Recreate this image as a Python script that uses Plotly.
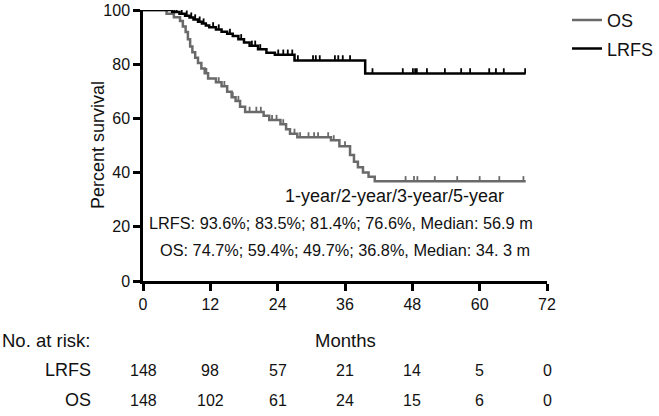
import plotly.graph_objects as go
import numpy as np

# ---- data ----
os_times = [0, 4.2, 5.5, 6.6, 7.1, 7.6, 8.0, 8.4, 8.8, 9.3, 9.8, 10.4, 11.0, 11.6, 13.0, 14.0,
            15.0, 15.8, 16.5, 17.3, 18.2, 21.5, 22.5, 24.5, 25.5, 26.2, 27.5, 33.5, 35.0,
            36.9, 37.6, 38.3, 39.2, 40.2, 41.3]
os_surv = [100, 98.6, 97.3, 95.9, 93.9, 91.9, 89.2, 86.5, 84.4, 82.4, 80.4, 78.4, 76.7, 74.7, 73.3, 71.9,
           69.8, 67.8, 66.4, 64.3, 62.4, 61.0, 59.4, 57.8, 56.0, 54.3, 53.0, 51.9, 49.7,
           46.5, 44.0, 42.0, 40.0, 38.5, 36.8]
os_censor = [11.3, 13.5, 14.5, 16.0, 17.0, 19.0, 20.2, 21.0, 23.0, 23.8, 25.0, 27.0, 28.0, 29.5,
             30.5, 31.2, 33.0, 34.0, 36.0, 46.8, 48.3, 48.9, 52.0, 56.0, 60.0, 63.5, 67.8]
os_end = 68.2

lrfs_times = [0, 5.2, 6.5, 7.5, 8.3, 9.0, 9.8, 10.5, 11.2, 11.8, 13.0, 14.0, 15.0, 16.0, 17.0,
              18.0, 19.0, 20.5, 22.0, 23.5, 27.0, 39.6]
lrfs_surv = [100, 99.3, 98.6, 97.9, 97.2, 96.5, 95.7, 95.0, 94.3, 93.6, 92.8, 92.0, 91.2, 90.4, 89.2,
             88.0, 86.8, 85.5, 84.2, 83.5, 81.4, 76.6]
lrfs_censor = [5.6, 6.0, 6.9, 7.8, 8.6, 9.3, 10.1, 10.8, 12.5, 13.5, 15.5, 17.5, 19.4, 20.0, 20.9,
               24.1, 25.0, 25.8, 26.6, 27.6, 30.3, 30.8, 31.5, 34.2, 34.8, 35.6, 36.9, 40.9,
               46.3, 48.1, 48.5, 48.8, 50.6, 53.8, 56.7, 58.3, 61.7, 62.9, 64.3, 68.1]
lrfs_end = 68.2

risk_times = [0, 12, 24, 36, 48, 60, 72]
risk_lrfs = [148, 98, 57, 21, 14, 5, 0]
risk_os = [148, 102, 61, 24, 15, 6, 0]

summary_lines = ["1-year/2-year/3-year/5-year",
                 "LRFS: 93.6%; 83.5%; 81.4%; 76.6%, Median: 56.9 m",
                 "OS: 74.7%; 59.4%; 49.7%; 36.8%, Median: 34. 3 m"]

GRAY = "#6a6a6a"
BLACK = "#000000"
FONT = "Liberation Sans, Arial, sans-serif"
TXT = "#111111"

L, R, T, B = 143, 547, 10, 281
W, H = R - L, B - T


def px2x(px):
    return (px - L) / W


def py2y(py):
    return (B - py) / H


def surv_at(times, surv, t):
    idx = np.searchsorted(np.array(times), t, side="right") - 1
    return surv[idx]


def tick_segments(times, surv, censor, h=1.9):
    xs, ys = [], []
    for c in censor:
        s = surv_at(times, surv, c)
        xs += [c, c, None]
        ys += [s, s + h, None]
    return xs, ys


fig = go.Figure()

for name, times, surv, cens, end, col in [
    ("OS", os_times, os_surv, os_censor, os_end, GRAY),
    ("LRFS", lrfs_times, lrfs_surv, lrfs_censor, lrfs_end, BLACK),
]:
    x = list(times) + [end]
    y = list(surv) + [surv[-1]]
    fig.add_trace(go.Scatter(x=x, y=y, mode="lines", line=dict(shape="hv", color=col, width=2.5),
                             name=name, legendgroup=name, showlegend=True))
    tx, ty = tick_segments(times, surv, cens)
    fig.add_trace(go.Scatter(x=tx, y=ty, mode="lines", line=dict(color=col, width=1.8),
                             legendgroup=name, showlegend=False, hoverinfo="skip"))


def f(size):
    return dict(size=size, color=TXT, family=FONT)


annots = []
ann_pos = [(283, 196, 18), (147, 223, 16.3), (158, 250, 16.3)]
for txt, (px, py, sz) in zip(summary_lines, ann_pos):
    annots.append(dict(text=txt, xref="paper", yref="paper", x=px2x(px), y=py2y(py),
                       xanchor="left", yanchor="middle", showarrow=False, font=f(sz)))

annots.append(dict(text="Percent survival", xref="paper", yref="paper", x=px2x(98), y=py2y(145),
                   xanchor="center", yanchor="middle", textangle=-90, showarrow=False, font=f(18)))
annots.append(dict(text="No. at risk:", xref="paper", yref="paper", x=px2x(0), y=py2y(340),
                   xanchor="left", yanchor="middle", showarrow=False, font=f(18.5)))
annots.append(dict(text="Months", xref="x", yref="paper", x=36, y=py2y(340),
                   xanchor="center", yanchor="middle", showarrow=False, font=f(18.5)))
for lab, vals, py in [("LRFS", risk_lrfs, 370), ("OS", risk_os, 400)]:
    annots.append(dict(text=lab, xref="paper", yref="paper", x=px2x(93), y=py2y(py),
                       xanchor="right", yanchor="middle", showarrow=False, font=f(18)))
    for t, v in zip(risk_times, vals):
        annots.append(dict(text=str(v), xref="x", yref="paper", x=t, y=py2y(py),
                           xanchor="center", yanchor="middle", showarrow=False, font=f(16)))

fig.update_layout(
    width=659, height=416,
    margin=dict(l=L, r=659 - R, t=T, b=416 - B, autoexpand=False),
    plot_bgcolor="white", paper_bgcolor="white",
    font=dict(family=FONT, size=16, color=TXT),
    showlegend=True,
    legend=dict(x=px2x(567), y=1.03, xanchor="left", yanchor="top", bgcolor="rgba(0,0,0,0)",
                font=f(18), itemwidth=30, tracegroupgap=2),
    annotations=annots,
    xaxis=dict(range=[0, 72], tickvals=risk_times, ticks="outside", ticklen=7, tickwidth=2.5,
               tickcolor="black", showline=True, linecolor="black", linewidth=2.5,
               showgrid=False, zeroline=False, tickfont=f(16), automargin=False),
    yaxis=dict(range=[0, 100], tickvals=[0, 20, 40, 60, 80, 100], ticks="outside", ticklen=7,
               tickwidth=2.5, tickcolor="black", showline=True, linecolor="black", linewidth=2.5,
               showgrid=False, zeroline=False, tickfont=f(16), automargin=False),
)

fig.write_html("out.html", config={"displayModeBar": False},
               post_script="document.body.style.margin='0';")
